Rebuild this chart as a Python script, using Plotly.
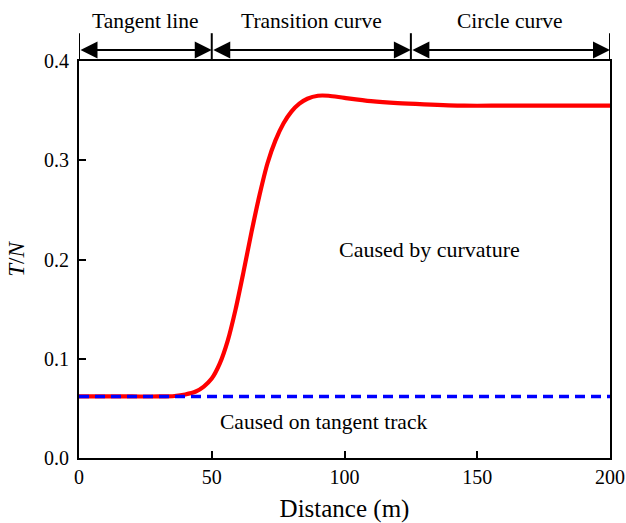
import plotly.graph_objects as go

# Ratio T/N along the track, caused by curvature (solid) and on tangent track (dashed)
distance_curv = [0, 10, 20, 30, 36, 40, 44, 47, 50, 53, 56, 59, 62, 65, 68, 71, 74, 77,
                 80, 83, 86, 90, 94, 100, 110, 120, 130, 145, 160, 180, 200]
tn_curvature = [0.062, 0.062, 0.062, 0.062, 0.0625, 0.064, 0.067, 0.072, 0.080, 0.095,
                0.118, 0.150, 0.188, 0.228, 0.265, 0.297, 0.320, 0.337, 0.349, 0.357,
                0.362, 0.365, 0.365, 0.3628, 0.3595, 0.3575, 0.3563, 0.355, 0.355,
                0.355, 0.355]

distance_tan = [0, 200]
tn_tangent = [0.062, 0.062]

# Track sections shown above the plot
section_names = ["Tangent line", "Transition curve", "Circle curve"]
section_bounds = [0, 50, 125, 200]

x_ticks = [0, 50, 100, 150, 200]
y_ticks = [0.0, 0.1, 0.2, 0.3, 0.4]

FONT = "Liberation Serif"

fig = go.Figure()
fig.add_trace(go.Scatter(
    x=distance_curv, y=tn_curvature, mode="lines",
    line=dict(color="#ff0000", width=4.2, shape="spline", smoothing=0.8),
    showlegend=False,
))
fig.add_trace(go.Scatter(
    x=distance_tan, y=tn_tangent, mode="lines",
    line=dict(color="#0000ff", width=3.5, dash="10px,6px"),
    showlegend=False,
))

# Section header: vertical separators, double arrows and names
arrow_y = 1.028
for b in section_bounds:
    fig.add_shape(type="line", xref="x", yref="paper", x0=b, x1=b, y0=1.0, y1=1.07,
                  line=dict(color="black", width=2))
for i, name in enumerate(section_names):
    x0, x1 = section_bounds[i], section_bounds[i + 1]
    fig.add_annotation(
        x=x1, y=arrow_y, xref="x", yref="paper",
        ax=x0, ay=0, axref="x", ayref="pixel",
        showarrow=True, arrowhead=2, startarrowhead=2, arrowside="end+start",
        arrowsize=1.7, startarrowsize=1.7, arrowwidth=2, arrowcolor="black",
        standoff=0, startstandoff=0, text="",
    )
    fig.add_annotation(
        x=(x0 + x1) / 2, y=1.10, xref="x", yref="paper", showarrow=False,
        xanchor="center", yanchor="middle",
        text=name, font=dict(family=FONT, size=21.5, color="black"),
    )

fig.add_annotation(x=132, y=0.21, xref="x", yref="y", showarrow=False,
                   text="Caused by curvature", font=dict(family=FONT, size=22, color="black"))
fig.add_annotation(x=92, y=0.036, xref="x", yref="y", showarrow=False,
                   text="Caused on tangent track", font=dict(family=FONT, size=21.5, color="black"))

fig.update_xaxes(
    range=[0, 200], tickvals=x_ticks, ticktext=[str(v) for v in x_ticks],
    ticks="inside", ticklen=7, tickwidth=2, tickcolor="black",
    showline=True, linecolor="black", linewidth=2, mirror=True,
    showgrid=False, zeroline=False,
    tickfont=dict(family=FONT, size=20, color="black"),
    title=dict(text="Distance (m)", font=dict(family=FONT, size=25, color="black"), standoff=13),
)
fig.update_yaxes(
    range=[0, 0.4], tickvals=y_ticks, ticktext=[f"{v:.1f}" for v in y_ticks],
    ticks="inside", ticklen=7, tickwidth=2, tickcolor="black",
    showline=True, linecolor="black", linewidth=2, mirror=True,
    showgrid=False, zeroline=False, ticklabelstandoff=4,
    tickfont=dict(family=FONT, size=20, color="black"),
    title=dict(text="<i>T</i>/<i>N</i>", font=dict(family=FONT, size=23, color="black"), standoff=13),
)

fig.update_layout(
    width=626, height=523,
    margin=dict(l=79, r=16, t=61, b=65, autoexpand=False),
    plot_bgcolor="white", paper_bgcolor="white",
)

fig.write_html("out.html")
